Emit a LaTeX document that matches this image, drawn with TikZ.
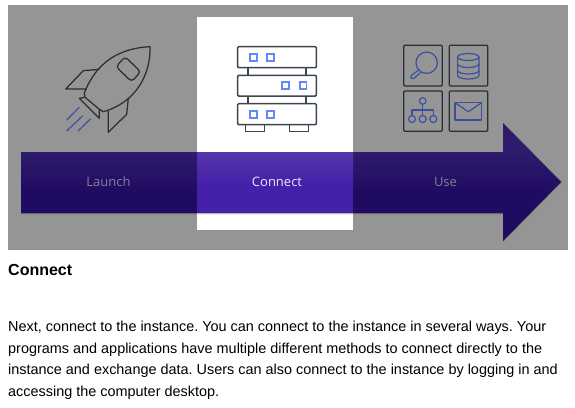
\documentclass[tikz,border=0pt]{standalone}
\usepackage{fontspec}
\setmainfont{Liberation Sans}
\newfontfamily\bandfont{Open Sans}
\definecolor{panel}{HTML}{959595}
\definecolor{darkline}{HTML}{2A2E36}
\definecolor{dimblue}{HTML}{3A50A0}
\definecolor{srvline}{HTML}{3D4552}
\definecolor{srvblue}{HTML}{6488F5}
\definecolor{banddarkA}{HTML}{2E1B6C}
\definecolor{banddarkB}{HTML}{200B62}
\definecolor{bandliteA}{HTML}{5636AE}
\definecolor{bandliteB}{HTML}{4520A8}
\definecolor{dimlabel}{HTML}{857F98}
\definecolor{litelabel}{HTML}{EDE8F9}
\tikzset{
  icon/.style={draw=darkline,line width=1.25pt,line join=round},
  iconblue/.style={draw=dimblue,line width=1.2pt,line join=round},
  srv/.style={draw=srvline,line width=1.5pt,rounded corners=1pt,fill=white},
  led/.style={draw=srvblue,line width=1.8pt},
  bandlabel/.style={font=\bandfont\fontsize{13}{15}\selectfont,anchor=center},
  bodytext/.style={font=\fontsize{14.43}{21}\selectfont\frenchspacing,anchor=base west,inner sep=0pt}
}
\begin{document}
\begin{tikzpicture}[x=1pt,y=-1pt]
\useasboundingbox (0,0) rectangle (575,407);
\fill[white] (0,0) rectangle (575,407);
\fill[panel] (8,5) rectangle (568,250);
\fill[white] (197,17) rectangle (353,230);
% shadow
\foreach \o/\a in {1.8/.05,1.1/.08,.5/.12}{
  \fill[black,opacity=\a] (21,152) -- (503,152) -- (503,123) -- (561+\o,182) -- (503,241+\o) -- (503,213+\o) -- (21,213+\o) -- cycle;
}
% arrow
\begin{scope}
  \clip (21,152) -- (503,152) -- (503,123) -- (561,182) -- (503,241) -- (503,213) -- (21,213) -- cycle;
  \fill[banddarkA] (21,123) rectangle (561,152.5);
  \shade[top color=banddarkA,bottom color=banddarkB] (21,152) rectangle (561,192);
  \fill[banddarkB] (21,191.5) rectangle (561,241);
  \fill[bandliteA] (197,150) rectangle (353,153);
  \shade[top color=bandliteA,bottom color=bandliteB] (197,152) rectangle (353,185);
  \fill[bandliteB] (197,184.5) rectangle (353,213);
\end{scope}
\node[bandlabel,text=dimlabel] (launch) at (108.5,181.5) {Launch};
\node[bandlabel,text=litelabel] (connect) at (277,181.5) {Connect};
\node[bandlabel,text=dimlabel] (use) at (445.5,181.5) {Use};
% rocket
\draw[icon] (84.3,93.3) .. controls (96,62) and (120,48) .. (150,46.7) .. controls (151,75) and (135,103) .. (103.3,111.7) -- (99.3,109.3) -- (85,97.3) -- cycle;
\draw[icon] (99.3,69.3) -- (83.3,70.7) -- (65.7,89) -- (86.7,89);
\draw[icon] (128.3,98.3) -- (126.7,114.3) -- (108.3,132.3) -- (108.3,110.7);
\draw[icon] (85,97.3) -- (79.3,98.3) -- (99.3,118.3) -- (99.3,109.3);
\draw[icon,rounded corners=3.5pt] (125,56.7) -- (140.7,71.7) -- (131.7,81.7) -- (116,66.7) -- cycle;
\draw[iconblue] (79.3,107.3) -- (66.7,120);
\draw[iconblue] (82.7,115.7) -- (66.7,131);
\draw[iconblue] (90.7,118.7) -- (78,131);
% servers
\draw[srv,rounded corners=0pt] (245.7,124.7) rectangle (264.7,131.7);
\draw[srv,rounded corners=0pt] (289.3,124.7) rectangle (308.7,131.7);
\draw[srv,rounded corners=0pt] (248,67.7) rectangle (306,75.3);
\draw[srv,rounded corners=0pt] (248,96) rectangle (306,103.7);
\draw[srv] (237.7,46.7) rectangle (316.3,67.7);
\draw[srv] (237.7,75.3) rectangle (316.3,96);
\draw[srv] (237.7,103.7) rectangle (316.3,124.7);
\foreach \cx/\cy in {253.3/57.3,270.7/57.3,285.7/85.7,303/85.7,253.3/114.3,270.7/114.3}{
  \draw[led] (\cx-3.4,\cy-3.4) rectangle (\cx+3.4,\cy+3.4);
}
% use tiles
\draw[icon,rounded corners=1pt] (403.7,45.3) rectangle (442.3,86);
\draw[icon,rounded corners=1pt] (449.3,45.3) rectangle (487.7,86);
\draw[icon,rounded corners=1pt] (403.7,91) rectangle (442.3,131.3);
\draw[icon,rounded corners=1pt] (449.3,91) rectangle (487.7,131.3);
% magnifier
\draw[iconblue] (426.7,62.7) circle (10.7);
\draw[iconblue,rounded corners=2pt] (418.7,70) -- (410,76.5) -- (412.5,79.5) -- (421,72.2);
% database
\draw[iconblue] (468.3,57) ellipse (10.7 and 3.5);
\draw[iconblue] (457.6,57) -- (457.6,75.5) arc[start angle=180,end angle=0,x radius=10.7,y radius=3.5] -- (479,57);
\draw[iconblue] (457.6,64) arc[start angle=180,end angle=0,x radius=10.7,y radius=3.5];
\draw[iconblue] (457.6,70.5) arc[start angle=180,end angle=0,x radius=10.7,y radius=3.5];
% org chart
\draw[iconblue] (422.7,101) circle (3.3);
\draw[iconblue] (412,119) circle (3.5);
\draw[iconblue] (422.7,119) circle (3.5);
\draw[iconblue] (433.3,119) circle (3.5);
\draw[iconblue] (422.7,104.3) -- (422.7,115.5);
\draw[iconblue] (412,115.5) -- (412,110) -- (433.3,110) -- (433.3,115.5);
% envelope
\draw[iconblue] (455,102.7) rectangle (481.7,120);
\draw[iconblue] (455,102.7) -- (468.3,111.7) -- (481.7,102.7);
% text
\node[bodytext,font=\fontsize{16}{20}\selectfont\bfseries] (title) at (8,275) {Connect};
\node[bodytext] (l1) at (8,331) {Next, connect to the instance. You can connect to the instance in several ways. Your};
\node[bodytext] (l2) at (8,353) {programs and applications have multiple different methods to connect directly to the};
\node[bodytext] (l3) at (8,374) {instance and exchange data. Users can also connect to the instance by logging in and};
\node[bodytext] (l4) at (8,396) {accessing the computer desktop.};
\end{tikzpicture}
\end{document}
